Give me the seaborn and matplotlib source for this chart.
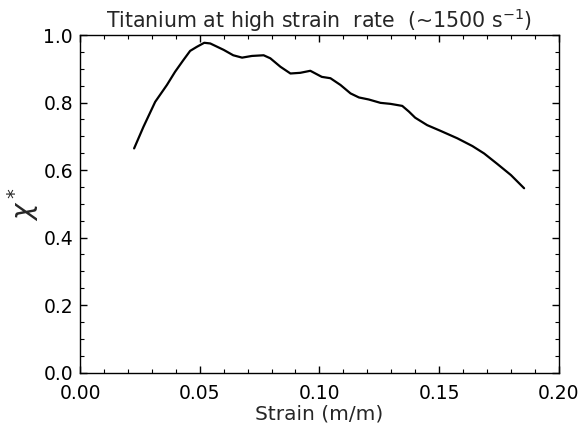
import matplotlib
matplotlib.use("Agg")
import matplotlib.pyplot as plt
import seaborn as sns
from matplotlib.ticker import MultipleLocator, FormatStrFormatter

# data
strain = [0.0226, 0.0265, 0.0314, 0.0363, 0.0397, 0.0432, 0.0460, 0.0488, 0.0519,
          0.0544, 0.0600, 0.0640, 0.0677, 0.0718, 0.0767, 0.0795, 0.0837, 0.0879,
          0.0920, 0.0962, 0.1010, 0.1046, 0.1088, 0.1130, 0.1165, 0.1206, 0.1255,
          0.1297, 0.1346, 0.1374, 0.1400, 0.1450, 0.1506, 0.1576, 0.1639, 0.1688,
          0.1743, 0.1800, 0.1855]
chi = [0.664, 0.728, 0.802, 0.852, 0.891, 0.926, 0.953, 0.965, 0.977,
       0.975, 0.956, 0.940, 0.933, 0.938, 0.940, 0.931, 0.906, 0.886,
       0.888, 0.894, 0.876, 0.872, 0.852, 0.827, 0.815, 0.809, 0.799,
       0.796, 0.790, 0.773, 0.755, 0.733, 0.716, 0.694, 0.671, 0.649,
       0.618, 0.585, 0.546]

title = "Titanium at high strain  rate  (~1500 s$^{-1}$)"
xlabel = "Strain (m/m)"
ylabel = r"$\chi^*$"

sns.set_style("ticks")
plt.rcParams["font.family"] = ["DejaVu Sans"]

fig, ax = plt.subplots(figsize=(5.87, 4.25), dpi=100)
fig.subplots_adjust(left=0.1363, right=0.952, bottom=0.1235, top=0.9176)

sns.lineplot(x=strain, y=chi, color="black", linewidth=1.6, ax=ax)

ax.set_xlim(0, 0.2)
ax.set_ylim(0, 1.0)
ax.xaxis.set_major_locator(MultipleLocator(0.05))
ax.xaxis.set_minor_locator(MultipleLocator(0.01))
ax.yaxis.set_major_locator(MultipleLocator(0.2))
ax.yaxis.set_minor_locator(MultipleLocator(0.05))
ax.xaxis.set_major_formatter(FormatStrFormatter("%.2f"))
ax.yaxis.set_major_formatter(FormatStrFormatter("%.1f"))

ax.tick_params(which="both", direction="in", top=True, right=True, colors="black")
ax.tick_params(which="major", length=5, width=1)
ax.tick_params(which="minor", length=3, width=0.8)
ax.tick_params(axis="x", which="major", pad=8, labelsize=13.5)
ax.tick_params(axis="y", which="major", pad=5, labelsize=13.5)

for s in ax.spines.values():
    s.set_color("black")
    s.set_linewidth(1.0)

ax.set_title(title, fontsize=14.8, pad=5)
ax.set_xlabel(xlabel, fontsize=14.5, labelpad=1)
ax.set_ylabel(ylabel, fontsize=20, labelpad=2)

fig.savefig("out.png", dpi=100)
